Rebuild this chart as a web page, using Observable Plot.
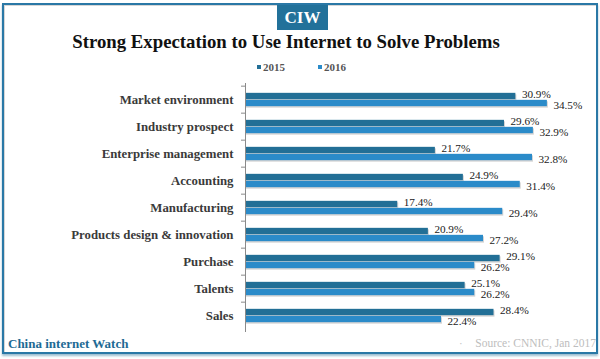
<!DOCTYPE html>
<html>
<head>
<meta charset="utf-8">
<script src="https://cdn.jsdelivr.net/npm/d3@7"></script>
<script src="https://cdn.jsdelivr.net/npm/@observablehq/plot@0.6"></script>
<style>
  html, body { margin: 0; padding: 0; background: #fff; overflow: hidden; }
  #wrap { position: relative; width: 600px; height: 359px; overflow: hidden; background: #fff; font-family: "Liberation Serif", "Times New Roman", serif; }
  #wrap svg { position: absolute; left: 0; top: 0; }
  .frame { position: absolute; left: 2px; top: 3px; width: 596px; height: 351px; box-sizing: border-box; border: 2px solid #2a78a6; box-shadow: inset 1px 1px 0 #d6d6d6, 0 2px 2px rgba(40,110,150,0.45); pointer-events: none; }
  .badge { position: absolute; left: 277px; top: 5px; width: 51px; height: 25px; background: #22719a; color: #fff; font-weight: bold; font-size: 17px; line-height: 25px; text-align: center; }
  .title { position: absolute; left: 0; width: 572px; top: 31px; text-align: center; font-weight: bold; font-size: 18.8px; color: #111; white-space: nowrap; }
  .legend { position: absolute; top: 61px; left: 257px; font-weight: bold; font-size: 11px; color: #555; white-space: nowrap; }
  .legend span.item { display: inline-block; margin-right: 33px; }
  .legend i { display: inline-block; width: 4px; height: 4px; margin-right: 2px; vertical-align: 2px; }
  .brand { position: absolute; left: 8px; top: 336px; font-weight: bold; font-size: 13px; color: #1e6a94; white-space: nowrap; }
  .source { position: absolute; right: 4px; top: 337px; font-size: 11.5px; color: #bdbdbd; white-space: nowrap; text-align: right; }
  .dot { position: absolute; left: 459px; top: 337px; font-size: 11px; color: #bdbdbd; }
</style>
</head>
<body>
<div id="wrap"></div>
<script>
const categories = ["Market environment", "Industry prospect", "Enterprise management", "Accounting", "Manufacturing", "Products design & innovation", "Purchase", "Talents", "Sales"];
const values2015 = [30.9, 29.6, 21.7, 24.9, 17.4, 20.9, 29.1, 25.1, 28.4];
const values2016 = [34.5, 32.9, 32.8, 31.4, 29.4, 27.2, 26.2, 26.2, 22.4];
const seriesNames = ["2015", "2016"];
const seriesColors = ["#226f96", "#2b8bc9"];
const titleText = "Strong Expectation to Use Internet to Solve Problems";
const badgeText = "CIW";
const brandText = "China internet Watch";
const sourceText = "Source: CNNIC, Jan 2017";

const d15 = categories.map((c, i) => ({category: c, value: values2015[i]}));
const d16 = categories.map((c, i) => ({category: c, value: values2016[i]}));

const W = 600, H = 359, mTop = 83, mBottom = 27, mLeft = 245, mRight = 5;
const step = (H - mTop - mBottom) / categories.length;
const barH = 7;
const top15 = (step - 2 * barH) / 2;

const fmt = v => v.toFixed(1) + "%";

const chart = Plot.plot({
  width: W,
  height: H,
  marginTop: mTop,
  marginBottom: mBottom,
  marginLeft: mLeft,
  marginRight: mRight,
  style: {fontFamily: "'Liberation Serif', 'Times New Roman', serif", background: "transparent"},
  x: {domain: [0, 40], axis: null},
  y: {domain: categories, padding: 0, axis: null},
  marks: [
    Plot.barX(d15, {x: "value", y: "category", fill: "#d4d4d4", insetTop: top15, insetBottom: step - top15 - barH, dy: 1.5, dx: 1}),
    Plot.barX(d16, {x: "value", y: "category", fill: "#d4d4d4", insetTop: top15 + barH, insetBottom: top15, dy: 1.5, dx: 1}),
    Plot.barX(d15, {x: "value", y: "category", fill: seriesColors[0], insetTop: top15, insetBottom: step - top15 - barH}),
    Plot.barX(d16, {x: "value", y: "category", fill: seriesColors[1], insetTop: top15 + barH, insetBottom: top15}),
    Plot.ruleX([0], {stroke: "#8a8a8a", strokeWidth: 1}),
    Plot.axisY({anchor: "left", label: null, tickSize: 0, tickPadding: 12, fontSize: 12.8, fontWeight: "bold", fill: "#3a3a3a"}),
    Plot.axisY({anchor: "left", label: null, tickSize: 4, tickFormat: () => "", stroke: "#8a8a8a", dy: -step / 2}),
    Plot.text(d15, {x: "value", y: "category", text: d => fmt(d.value), textAnchor: "start", dx: 6, dy: -5.5, fontSize: 11.2, fill: "#1a1a1a"}),
    Plot.text(d16, {x: "value", y: "category", text: d => fmt(d.value), textAnchor: "start", dx: 6, dy: 5.5, fontSize: 11.2, fill: "#1a1a1a"})
  ]
});

const wrap = document.getElementById("wrap");
wrap.appendChild(chart);

function add(cls, txt) {
  const el = document.createElement("div");
  el.className = cls;
  el.textContent = txt;
  wrap.appendChild(el);
  return el;
}
add("frame", "");
add("badge", badgeText);
add("title", titleText);
const leg = add("legend", "");
seriesNames.forEach((n, i) => {
  const s = document.createElement("span");
  s.className = "item";
  const sw = document.createElement("i");
  sw.style.background = seriesColors[i];
  s.appendChild(sw);
  s.appendChild(document.createTextNode(n));
  leg.appendChild(s);
});
add("brand", brandText);
add("dot", "·");
add("source", sourceText);
</script>
</body>
</html>
